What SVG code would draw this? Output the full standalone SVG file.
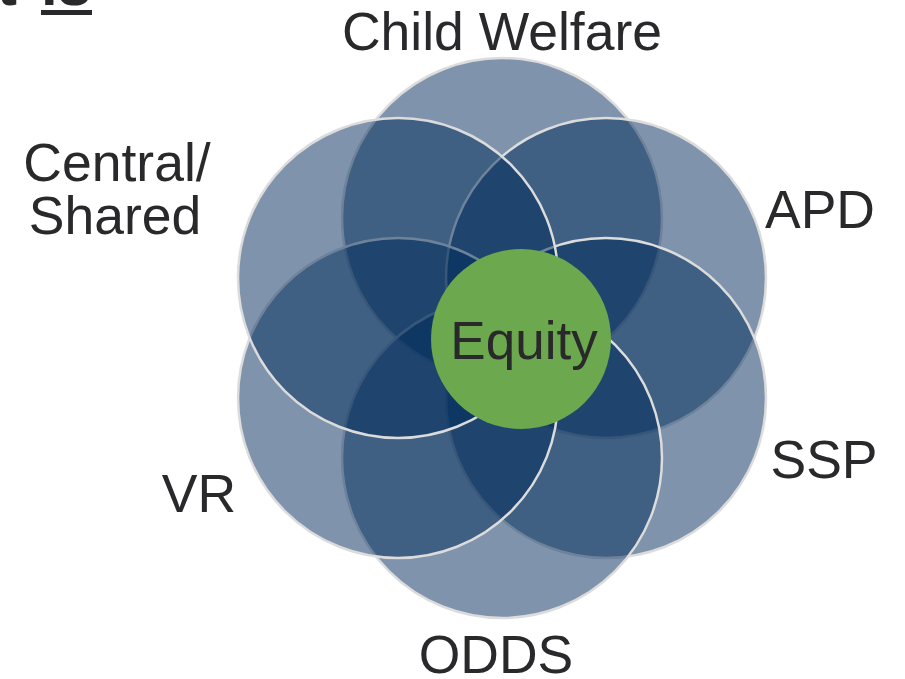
<svg xmlns="http://www.w3.org/2000/svg" width="905" height="679" viewBox="0 0 905 679">
<style>
.lbl{font-family:"Liberation Sans",Arial,sans-serif;font-size:53.5px;fill:#29282b;text-anchor:middle}
.c{fill:#002a5a;fill-opacity:0.5;stroke:#dcdcdc;stroke-width:2.5}
</style>
<rect width="905" height="679" fill="#ffffff"/>
<g id="title">
<text x="17" y="5" font-family="Liberation Sans,Arial,sans-serif" font-size="60" font-weight="bold" fill="#29282b" text-anchor="end">t</text>
<text x="41" y="5" font-family="Liberation Sans,Arial,sans-serif" font-size="60" font-weight="bold" fill="#29282b">is</text>
<rect x="41" y="10" width="51" height="5" fill="#29282b"/>
</g>
<g id="child-welfare"><circle class="c" cx="502" cy="218" r="160"/></g>
<g id="apd"><circle class="c" cx="606" cy="278" r="160"/></g>
<g id="ssp"><circle class="c" cx="606" cy="398" r="160"/></g>
<g id="odds"><circle class="c" cx="502" cy="458" r="160"/></g>
<g id="vr"><circle class="c" cx="398" cy="398" r="160"/></g>
<g id="central"><circle class="c" cx="398" cy="278" r="160"/></g>
<g id="equity">
<circle cx="521" cy="339" r="90" fill="#6ca84e"/>
<text class="lbl" x="524" y="359" style="font-size:53px">Equity</text>
</g>
<g id="labels">
<text class="lbl" x="502" y="50">Child Welfare</text>
<text class="lbl"><tspan x="117" y="181">Central/</tspan><tspan x="115" y="234">Shared</tspan></text>
<text class="lbl" x="820" y="228">APD</text>
<text class="lbl" x="824" y="478">SSP</text>
<text class="lbl" x="199" y="512">VR</text>
<text class="lbl" x="496" y="673">ODDS</text>
</g>
<g id="connectors"/>
</svg>
